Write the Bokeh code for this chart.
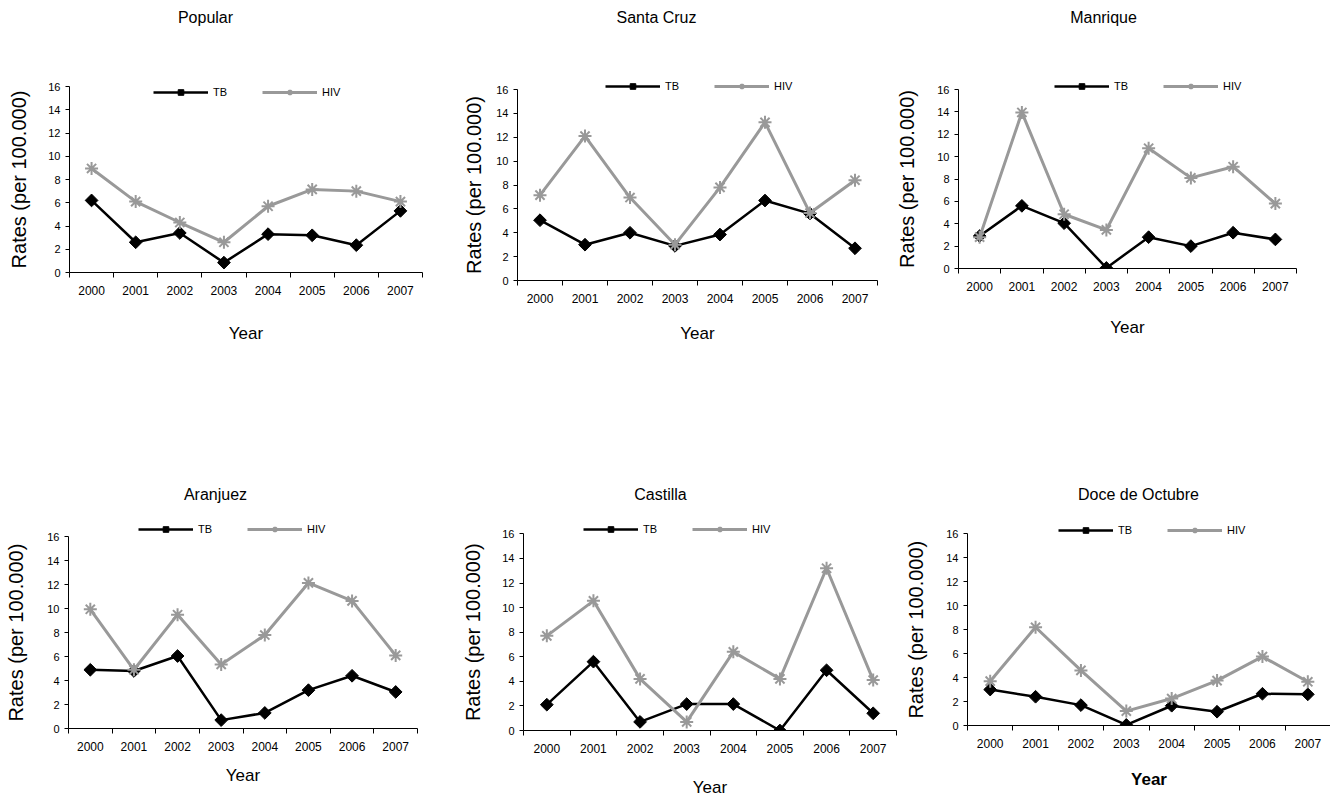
import numpy as np
from bokeh.plotting import figure
from bokeh.models import FixedTicker, Legend, LegendItem, Range1d, Label, LinearAxis
from bokeh.layouts import row, column
from bokeh.embed import file_html
from bokeh.resources import INLINE

# ---------------- data ----------------
years = ["2000", "2001", "2002", "2003", "2004", "2005", "2006", "2007"]
y_ticks = [0, 2, 4, 6, 8, 10, 12, 14, 16]

districts = ["Popular", "Santa Cruz", "Manrique", "Aranjuez", "Castilla", "Doce de Octubre"]

tb_popular = [6.2, 2.6, 3.4, 0.85, 3.3, 3.2, 2.35, 5.3]
hiv_popular = [8.95, 6.1, 4.3, 2.6, 5.7, 7.15, 7.0, 6.1]

tb_santa_cruz = [5.05, 3.0, 4.0, 2.9, 3.85, 6.7, 5.6, 2.7]
hiv_santa_cruz = [7.15, 12.1, 6.95, 3.0, 7.8, 13.25, 5.65, 8.4]

tb_manrique = [2.9, 5.6, 4.05, 0.05, 2.8, 2.0, 3.2, 2.6]
hiv_manrique = [2.8, 13.95, 4.85, 3.45, 10.75, 8.1, 9.1, 5.8]

tb_aranjuez = [4.9, 4.8, 6.05, 0.7, 1.3, 3.2, 4.4, 3.05]
hiv_aranjuez = [9.95, 4.9, 9.5, 5.35, 7.8, 12.15, 10.65, 6.1]

tb_castilla = [2.1, 5.6, 0.7, 2.15, 2.15, 0.0, 4.9, 1.4]
hiv_castilla = [7.7, 10.55, 4.2, 0.7, 6.4, 4.2, 13.2, 4.1]

tb_doce = [3.0, 2.4, 1.7, 0.05, 1.65, 1.15, 2.65, 2.6]
hiv_doce = [3.7, 8.2, 4.6, 1.2, 2.25, 3.75, 5.75, 3.65]

tb_series = [tb_popular, tb_santa_cruz, tb_manrique, tb_aranjuez, tb_castilla, tb_doce]
hiv_series = [hiv_popular, hiv_santa_cruz, hiv_manrique, hiv_aranjuez, hiv_castilla, hiv_doce]

y_title = "Rates (per 100.000)"
x_title = "Year"

# ---------------- layout (pixels, relative to each figure) ----------------
# Figures in a row share the same bottom border (Bokeh aligns borders in a row).
# T = pixel of the 16 tick, B = pixel of the zero line.
specs = [
    dict(W=440, H=470, L=69, R=422, T=86, B=272, tcx=205, tcy=17, lx=153, lcy=92, yd=49, xd=61, bold=False),
    dict(W=440, H=478, L=77, R=437, T=89, B=280, tcx=216, tcy=17, lx=165, lcy=86, yd=42, xd=53, bold=False),
    dict(W=450, H=466, L=78, R=416, T=89, B=268, tcx=223, tcy=17, lx=174, lcy=86, yd=50, xd=59, bold=False),
    dict(W=440, H=319, L=68, R=417, T=59, B=253, tcx=215, tcy=19, lx=138, lcy=54, yd=50, xd=47, bold=False),
    dict(W=460, H=321, L=83, R=456, T=56, B=255, tcx=220, tcy=19, lx=143, lcy=54, yd=48, xd=57, bold=False),
    dict(W=430, H=316, L=67, R=430, T=56, B=250, tcx=238, tcy=19, lx=158, lcy=55, yd=49, xd=54, bold=True),
]

FONT = "Liberation Sans"
GRAY = "#999999"


def make_panel(name, tb, hiv, s):
    n = len(years)
    ymax = y_ticks[-1]
    # the frame reaches the top of the figure; the value axis is bounded to 0..16
    y_top = ymax * s["B"] / (s["B"] - s["T"])
    p = figure(width=s["W"], height=s["H"], output_backend="svg", toolbar_location=None,
               title=None,
               x_range=Range1d(0, n), y_range=Range1d(0, y_top),
               min_border_left=s["L"], min_border_right=s["W"] - s["R"],
               min_border_top=0, min_border_bottom=s["H"] - s["B"])
    p.background_fill_color = "white"
    p.border_fill_color = "white"
    p.outline_line_color = None
    p.xgrid.grid_line_color = None
    p.ygrid.grid_line_color = None

    xs = [i + 0.5 for i in range(n)]

    r_tb_l = p.line(xs, tb, line_color="black", line_width=2.5)
    r_tb_m = p.scatter(xs, tb, marker="square", angle=np.pi / 4, size=9,
                       fill_color="black", line_color="black")
    r_hiv_l = p.line(xs, hiv, line_color=GRAY, line_width=3)
    r_hiv_m = p.scatter(xs, hiv, marker="asterisk", size=13, line_color=GRAY, line_width=2)

    # panel title
    p.add_layout(Label(x=s["tcx"] - s["L"], y=s["B"] - s["tcy"], x_units="screen", y_units="screen",
                       text=name, text_align="center", text_baseline="middle",
                       text_font=FONT, text_font_size="16px", text_color="black"))

    # x axis
    xa = p.xaxis[0]
    xa.ticker = FixedTicker(ticks=xs, minor_ticks=list(range(n + 1)))
    xa.major_label_overrides = {x: y for x, y in zip(xs, years)}
    xa.major_tick_in = 0
    xa.major_tick_out = 0
    xa.minor_tick_in = 0
    xa.minor_tick_out = 5
    xa.minor_tick_line_color = "black"
    xa.axis_line_color = "black"
    xa.major_label_text_font = FONT
    xa.major_label_text_font_size = "12px"
    xa.major_label_text_color = "black"
    xa.major_label_standoff = 8
    xa.axis_label = x_title
    xa.axis_label_text_font = FONT
    xa.axis_label_text_font_size = "17px"
    xa.axis_label_text_font_style = "bold" if s["bold"] else "normal"
    xa.axis_label_text_color = "black"
    xa.axis_label_standoff = int(s["xd"] - 35)

    # y axis (values)
    ya = p.yaxis[0]
    ya.bounds = (0, ymax)
    ya.ticker = FixedTicker(ticks=y_ticks, minor_ticks=[])
    ya.major_tick_in = 0
    ya.major_tick_out = 4
    ya.minor_tick_out = 0
    ya.minor_tick_in = 0
    ya.axis_line_color = "black"
    ya.major_tick_line_color = "black"
    ya.major_label_text_font = FONT
    ya.major_label_text_font_size = "11px"
    ya.major_label_text_color = "black"
    ya.major_label_standoff = 5

    # y-axis title: a second left axis with a single labelled tick at the middle of 0..16
    mid = ymax / 2
    ya2 = LinearAxis(ticker=FixedTicker(ticks=[mid], minor_ticks=[]),
                     major_label_overrides={mid: y_title},
                     major_label_orientation="vertical",
                     axis_line_color=None, major_tick_line_color=None, minor_tick_line_color=None,
                     major_tick_in=0, major_tick_out=0, minor_tick_in=0, minor_tick_out=0,
                     major_label_standoff=max(0, int(s["yd"] - 33)),
                     major_label_text_font=FONT, major_label_text_font_size="20px",
                     major_label_text_color="black")
    p.add_layout(ya2, "left")

    # legend
    lh = 14
    legend = Legend(
        items=[LegendItem(label="TB", renderers=[r_tb_l, r_tb_m]),
               LegendItem(label="HIV", renderers=[r_hiv_l, r_hiv_m])],
        orientation="horizontal",
        location=(s["lx"] - s["L"], s["B"] - (s["lcy"] + lh / 2)),
        glyph_width=55, glyph_height=lh, label_height=lh, label_width=10,
        label_standoff=5, spacing=35, padding=0, margin=0,
        border_line_color=None, background_fill_alpha=0,
        label_text_font=FONT, label_text_font_size="11px", label_text_color="black",
    )
    p.add_layout(legend)
    return p


panels = [make_panel(nm, tb, hv, sp) for nm, tb, hv, sp in zip(districts, tb_series, hiv_series, specs)]
layout = column(row(*panels[:3]), row(*panels[3:]))

open("out.html", "w").write(file_html(layout, INLINE))
